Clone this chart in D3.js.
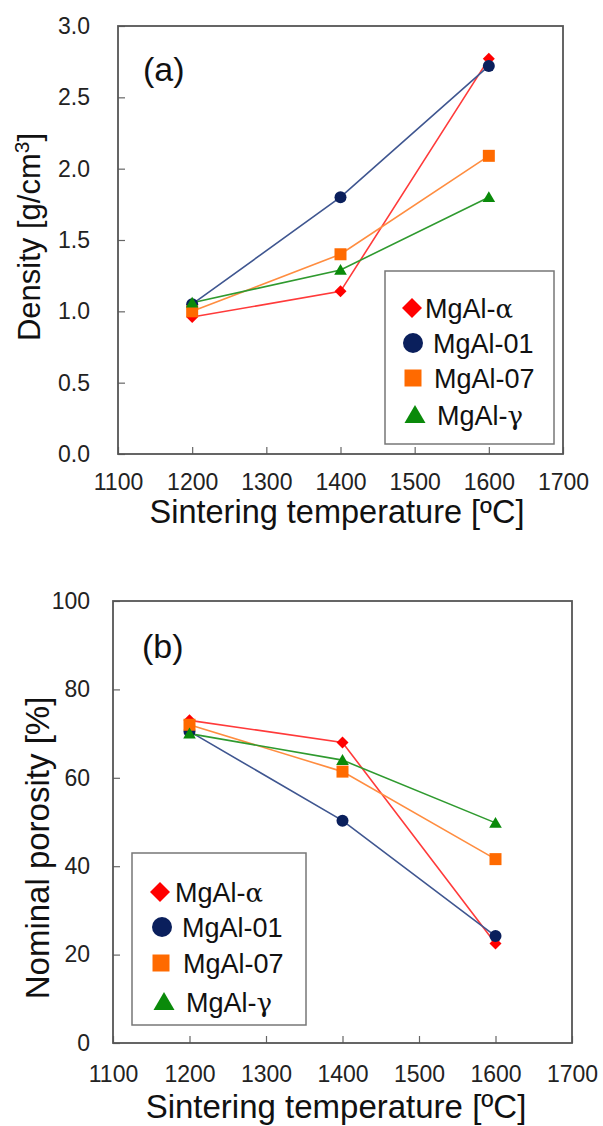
<!DOCTYPE html>
<html>
<head>
<meta charset="utf-8">
<script src="https://cdn.jsdelivr.net/npm/d3@7/dist/d3.min.js"></script>
<style>
  html, body { margin: 0; padding: 0; background: #fff; }
  svg { display: block; }
  text { font-family: "Liberation Sans", Arial, Helvetica, sans-serif; }
</style>
</head>
<body>
<svg id="chart" width="603" height="1126"></svg>
<script>
// ---------- data ----------
const temperatures = [1200, 1400, 1600];
const seriesNames = ["MgAl-α", "MgAl-01", "MgAl-07", "MgAl-γ"];
const xTicks = [1100, 1200, 1300, 1400, 1500, 1600, 1700];

const densityAlpha = [0.96, 1.14, 2.77];
const density01    = [1.05, 1.80, 2.72];
const density07    = [1.00, 1.40, 2.09];
const densityGamma = [1.06, 1.29, 1.80];
const densityTicks = [0, 0.5, 1.0, 1.5, 2.0, 2.5, 3.0];

const porosityAlpha = [73.0, 68.0, 22.5];
const porosity01    = [70.5, 50.3, 24.2];
const porosity07    = [72.0, 61.4, 41.6];
const porosityGamma = [70.0, 64.0, 49.8];
const porosityTicks = [0, 20, 40, 60, 80, 100];

// ---------- styles ----------
const markerShapes = ["diamond", "circle", "square", "triangle"];
const markerColors = ["#ff0000", "#0a1f5c", "#ff6a00", "#0a8a0a"];
const lineColors   = ["#ff3a3a", "#3f5690", "#ff8d40", "#2f9a2f"];

const svg = d3.select("#chart");

function markerPath(shape, r) {
  const p = d3.path();
  if (shape === "diamond") {
    p.moveTo(0, -r); p.lineTo(r, 0); p.lineTo(0, r); p.lineTo(-r, 0); p.closePath();
  } else if (shape === "circle") {
    p.arc(0, 0, r, 0, Math.PI * 2); p.closePath();
  } else if (shape === "square") {
    p.rect(-r, -r, 2 * r, 2 * r);
  } else {
    p.moveTo(0, -r); p.lineTo(r * 1.05, r * 0.8); p.lineTo(-r * 1.05, r * 0.8); p.closePath();
  }
  return p.toString();
}

function drawChart(cfg) {
  const g = svg.append("g");
  const x = d3.scaleLinear().domain([1100, 1700]).range([cfg.left, cfg.right]);
  const y = d3.scaleLinear().domain(cfg.yDomain).range([cfg.bottom, cfg.top]);

  // axes (inside ticks)
  const xa = g.append("g").attr("transform", `translate(0,${cfg.bottom})`)
    .call(d3.axisBottom(x).tickValues(xTicks).tickFormat(d3.format("d"))
      .tickSizeInner(-7).tickSizeOuter(0).tickPadding(cfg.xPad));
  const ya = g.append("g").attr("transform", `translate(${cfg.left},0)`)
    .call(d3.axisLeft(y).tickValues(cfg.yTicks).tickFormat(cfg.yFormat)
      .tickSizeInner(-7).tickSizeOuter(0).tickPadding(cfg.yPad));
  [xa, ya].forEach(a => {
    a.select(".domain").remove();
    a.selectAll(".tick line").attr("stroke", "#666").attr("stroke-width", 1.2);
    a.selectAll(".tick text").attr("font-size", 23).attr("fill", "#222")
      .style("font-family", "'Liberation Sans', Arial, sans-serif");
  });

  // frame
  g.append("rect")
    .attr("x", cfg.left).attr("y", cfg.top)
    .attr("width", cfg.right - cfg.left).attr("height", cfg.bottom - cfg.top)
    .attr("fill", "none").attr("stroke", "#555").attr("stroke-width", 1.8);

  // lines + markers
  const line = d3.line().x((d, i) => x(temperatures[i])).y(d => y(d));
  cfg.series.forEach((vals, si) => {
    g.append("path").attr("d", line(vals))
      .attr("fill", "none").attr("stroke", lineColors[si]).attr("stroke-width", 1.6);
  });
  cfg.series.forEach((vals, si) => {
    g.selectAll(null).data(vals).enter().append("path")
      .attr("transform", (d, i) => `translate(${x(temperatures[i])},${y(d)})`)
      .attr("d", markerPath(markerShapes[si], si === 0 ? 6 : 6))
      .attr("fill", markerColors[si]);
  });

  // panel label
  g.append("text").attr("x", cfg.labelX).attr("y", cfg.labelY)
    .attr("font-size", 34).attr("fill", "#111").text(cfg.label);

  // x title
  g.append("text").attr("x", cfg.xTitleX).attr("y", cfg.xTitleY)
    .attr("text-anchor", "middle").attr("font-size", cfg.xTitleSize).attr("fill", "#111")
    .text("Sintering temperature [ºC]");

  // y title
  const yt = g.append("text")
    .attr("transform", `translate(${cfg.yTitleX},${cfg.yTitleY}) rotate(-90)`)
    .attr("text-anchor", "middle").attr("font-size", cfg.yTitleSize).attr("fill", "#111");
  cfg.yTitle(yt);

  // legend
  const L = cfg.legend;
  g.append("rect").attr("x", L.x).attr("y", L.y).attr("width", L.w).attr("height", L.h)
    .attr("fill", "#fff").attr("stroke", "#777").attr("stroke-width", 1.5);
  seriesNames.forEach((name, si) => {
    const cy = L.rows[si];
    const mx = L.mx[si];
    const rr = [10, 10, 8.5, 10][si];
    g.append("path").attr("transform", `translate(${mx},${cy})`)
      .attr("d", markerPath(markerShapes[si], rr)).attr("fill", markerColors[si]);
    const t = g.append("text").attr("x", L.tx[si]).attr("y", cy).attr("dy", "0.36em")
      .attr("font-size", 27).attr("fill", "#111");
    const m = name.match(/^(MgAl-)(.*)$/);
    t.append("tspan").text(m[1]);
    const greek = m[2] === "α" || m[2] === "γ";
    t.append("tspan").text(m[2])
      .style("font-family", greek ? "'DejaVu Serif', 'Liberation Serif', serif" : null)
      .attr("font-size", greek ? 26 : 27);
  });
}

drawChart({
  left: 118, right: 563, top: 26, bottom: 454,
  yDomain: [0, 3], yTicks: densityTicks, yFormat: d3.format(".1f"),
  xPad: 20, yPad: 28,
  series: [densityAlpha, density01, density07, densityGamma],
  label: "(a)", labelX: 143, labelY: 81,
  xTitleX: 337, xTitleY: 523, xTitleSize: 32.5,
  yTitleX: 40, yTitleY: 237, yTitleSize: 31,
  yTitle: t => {
    t.append("tspan").text("Density [g/cm");
    t.append("tspan").text("3").attr("font-size", 21).attr("dy", "-11");
    t.append("tspan").text("]").attr("dy", "11");
  },
  legend: { x: 385, y: 271, w: 169, h: 173,
            rows: [308, 343, 378, 415],
            mx: [412, 413, 413, 415],
            tx: [425, 433, 434, 437] }
});

drawChart({
  left: 113, right: 572, top: 601, bottom: 1043,
  yDomain: [0, 100], yTicks: porosityTicks, yFormat: d3.format("d"),
  xPad: 23, yPad: 23,
  series: [porosityAlpha, porosity01, porosity07, porosityGamma],
  label: "(b)", labelX: 142, labelY: 658,
  xTitleX: 336, xTitleY: 1118, xTitleSize: 33,
  yTitleX: 49, yTitleY: 848, yTitleSize: 33,
  yTitle: t => { t.text("Nominal porosity [%]"); },
  legend: { x: 132, y: 853, w: 174, h: 172,
            rows: [892, 927, 963, 1002],
            mx: [160, 162, 161, 164],
            tx: [175, 182, 183, 186] }
});
</script>
</body>
</html>
